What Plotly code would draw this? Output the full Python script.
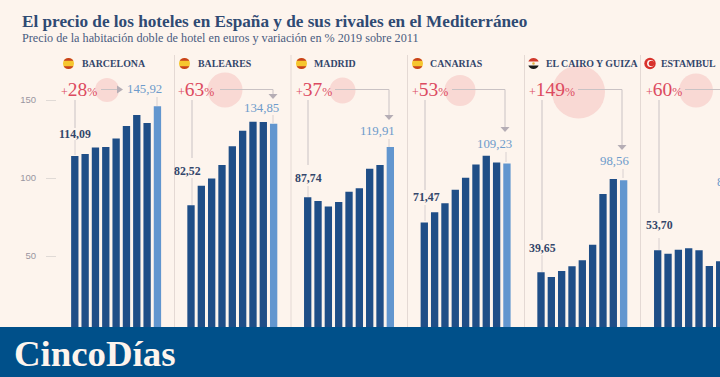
import plotly.graph_objects as go

years = ["2011", "2012", "2013", "2014", "2015", "2016", "2017", "2018", "2019"]
barcelona = [114.09, 115.4, 119.6, 119.9, 125.4, 133.3, 140.4, 135.3, 145.92]
baleares = [82.52, 95.0, 99.6, 108.3, 120.3, 130.3, 136.1, 135.9, 134.85]
madrid = [87.74, 85.3, 81.8, 84.6, 91.2, 93.4, 106.0, 108.3, 119.91]
canarias = [71.47, 78.0, 83.8, 92.5, 100.2, 108.7, 114.3, 110.0, 109.23]
cairo = [39.65, 36.5, 40.4, 43.4, 47.2, 57.2, 89.7, 99.4, 98.56]
estambul = [53.70, 51.5, 54.0, 54.9, 53.7, 43.6, 46.6]
names = ["BARCELONA", "BALEARES", "MADRID", "CANARIAS", "EL CAIRO Y GUIZA", "ESTAMBUL"]
changes = ["28", "63", "37", "53", "149", "60"]
first_labels = ["114,09", "82,52", "87,74", "71,47", "39,65", "53,70"]
last_labels = ["145,92", "134,85", "119,91", "109,23", "98,56", "85,92"]
series = [barcelona, baleares, madrid, canarias, cairo, estambul]
yticks = [50, 100, 150]

W, H = 720, 377
BG = "#fdf4ed"; DARK = "#1f4e87"; LIGHT = "#6296cf"; BANNER = "#00508a"
INK = "#33466b"; RED = "#dc4a60"; GREY = "#c9c2c4"; SEP = "#e4d9d4"
SERIF = "Liberation Serif"
STEP = 10.33
X0 = [74.8, 191.0, 307.7, 424.3, 541.0, 657.7]

def px(x): return x / W
def py(y): return 1 - y / H

fig = go.Figure()
layout_axes = {}
for i, vals in enumerate(series):
    n = "" if i == 0 else str(i + 1)
    left = X0[i] - STEP / 2
    right = min(left + 9 * STEP, W)
    hi = (right - left) / STEP - 0.5
    layout_axes["xaxis" + n] = dict(domain=[px(left), px(right)], range=[-0.5, hi], type="category",
                                    categoryorder="array", categoryarray=years, visible=False,
                                    anchor="y", fixedrange=True)
    colors = [LIGHT if j == 8 else DARK for j in range(len(vals))]
    fig.add_trace(go.Bar(x=years[:len(vals)], y=vals, xaxis="x" + n, yaxis="y", marker_color=colors,
                         marker_line_width=0, showlegend=False, name=names[i]))

shapes, ann = [], []

def line(x1, y1, x2, y2, color=GREY, w=1):
    shapes.append(dict(type="line", xref="paper", yref="paper", x0=px(x1), y0=py(y1), x1=px(x2), y1=py(y2),
                       line=dict(color=color, width=w), layer="below"))

def circle(cx, cy, r, color, layer="below", ry=None):
    ry = r if ry is None else ry
    shapes.append(dict(type="circle", xref="paper", yref="paper", x0=px(cx - r), x1=px(cx + r),
                       y0=py(cy - ry), y1=py(cy + ry), fillcolor=color, line_width=0, layer=layer))

def band(cx, cy, r, top, bot, color):
    n = 14
    ys = [top + (bot - top) * k / n for k in range(n + 1)]
    half = [max(r * r - (y - cy) ** 2, 0) ** 0.5 for y in ys]
    pts = [(cx - h, y) for h, y in zip(half, ys)] + [(cx + h, y) for h, y in zip(half[::-1], ys[::-1])]
    path = "M " + " L ".join(f"{px(a):.5f},{py(b):.5f}" for a, b in pts) + " Z"
    shapes.append(dict(type="path", xref="paper", yref="paper", path=path, fillcolor=color, line_width=0))

def text(x, y, s, size, color, anchor="center", bold=False, family=SERIF):
    if bold:
        s = f"<b>{s}</b>"
    if anchor == "left":
        x -= 2
    ann.append(dict(xref="paper", yref="paper", x=px(x), y=py(y), text=s, showarrow=False, xanchor=anchor,
                    yanchor="middle", font=dict(family=family, size=size, color=color)))

def head(x, y, direction="down"):
    s = 4.5
    if direction == "down":
        pts = [(x - s, y - 2), (x + s, y - 2), (x, y + 3)]
    else:
        pts = [(x - 3, y - 4), (x + 3, y), (x - 3, y + 4)]
    path = "M " + " L ".join(f"{px(a):.5f},{py(b):.5f}" for a, b in pts) + " Z"
    shapes.append(dict(type="path", xref="paper", yref="paper", path=path, fillcolor="#b5adb5", line_width=0))

for x in [174.5, 291, 407.5, 524.5, 640.5]:
    line(x, 55, x, 327, SEP, 1)

for cx, cy, r in [(107, 90, 12), (225, 90, 17.5), (342.5, 90.5, 13), (460, 90.5, 15.5), (578.5, 92, 26.5), (696, 90.5, 17)]:
    circle(cx, cy, r, "#f9d9d4")

conn = [
    (101, 120, None, 75, 100, 128, 140, 155, 157, 97, 106, 144, 89),
    (220, 273, 94, 192, 100, 158, 178, 205, 273, 115, 123, 261, 108),
    (335, 389, 115, 308, 100, 165, 186, 197, 389, 139, 147, 377.5, 131),
    (452, 505, 127, 425, 100, 190, 205, 221, 506, 152, 162, 494, 144),
    (578, 622, 145, 542, 100, 240, 255, 272, 623, 169, 178, 614, 161),
    (685, 740, None, 659, 100, 213, 238, 250, 740, 190, 200, 731, 182),
]
for i, c in enumerate(conn):
    hs, he, drop, lx, l1, l2, s1, s2, rx, r1, r2, lbx, lby = c
    line(hs, 89.5, he, 89.5)
    if drop is not None:
        line(he, 89.5, he, drop)
        head(he, drop + 2)
    elif i == 0:
        head(he, 89.5, "right")
    line(lx, l1, lx, l2)
    line(lx, s1, lx, s2, "#d8d0d0")
    line(rx, r1, rx, r2, "#d8d0d0")
    text(lbx, lby, last_labels[i], 12.8, "#6e9bcb")

first_pos = [(75, 134), (187, 171), (308.5, 178), (426, 197), (542, 248), (659, 225)]
for (x, y), s in zip(first_pos, first_labels):
    text(x, y, s, 11.8, INK, bold=True)

pct_x = [61, 178, 295.5, 411.5, 528.5, 645.5]
for x, s in zip(pct_x, changes):
    t = f"<span style='font-size:12px'>+</span>{s}<span style='font-size:12px'>%</span>"
    text(x, 89.5, t, 19.5, RED, anchor="left")

name_x = [82, 198, 314, 430, 546, 661]
for x, s in zip(name_x, names):
    text(x, 63.5, s, 9.9, INK, anchor="left", bold=True)

for cx in [68.5, 184.5, 301.5, 417.5]:
    circle(cx, 63.5, 5.5, "#f6c62e", layer="above")
    band(cx, 63.5, 5.5, 58, 60.7, "#c8401f")
    band(cx, 63.5, 5.5, 66.3, 69, "#c8401f")
band(533.5, 63.5, 5.5, 58, 61.5, "#d0392b")
band(533.5, 63.5, 5.5, 65.5, 69, "#1a1a1a")
circle(533.5, 63.5, 1.3, "#e0b040", layer="above")
circle(650, 63.5, 5.7, "#d8322c", layer="above")
circle(650.5, 63.5, 3.4, "#ffffff", layer="above")
circle(651.5, 63.5, 2.8, "#d8322c", layer="above")

shapes.append(dict(type="rect", xref="paper", yref="paper", x0=0, x1=1, y0=0, y1=py(327),
                   fillcolor=BANNER, line_width=0, layer="above"))

text(22, 21, "El precio de los hoteles en España y de sus rivales en el Mediterráneo", 17.2, "#2f4a73", anchor="left", bold=True)
text(22, 38, "Precio de la habitación doble de hotel en euros y variación en % 2019 sobre 2011", 12.2, "#4a5c80", anchor="left")
text(14, 353, "CincoDías", 36.8, "#fdf4ed", anchor="left", bold=True)

fig.update_layout(
    width=W, height=H, margin=dict(l=0, r=0, t=0, b=0), autosize=False,
    paper_bgcolor=BG, plot_bgcolor=BG, bargap=0.29, showlegend=False,
    shapes=shapes, annotations=ann,
    yaxis=dict(domain=[0, 1], range=[-27.56, 214.1], tickvals=yticks, ticktext=[str(v) for v in yticks],
               anchor="free", position=px(56), side="left", showgrid=False, zeroline=False, showline=False,
               ticks="outside", ticklen=10, tickcolor="#e0dad6", tickwidth=1, ticklabelstandoff=8,
               tickfont=dict(family="Liberation Sans", size=9.5, color="#9a96a0"), fixedrange=True),
    **layout_axes,
)
fig.write_html("out.html", config={"displayModeBar": False},
               post_script="document.body.style.margin='0';document.body.style.overflow='hidden';document.body.style.background='#fdf4ed';")
